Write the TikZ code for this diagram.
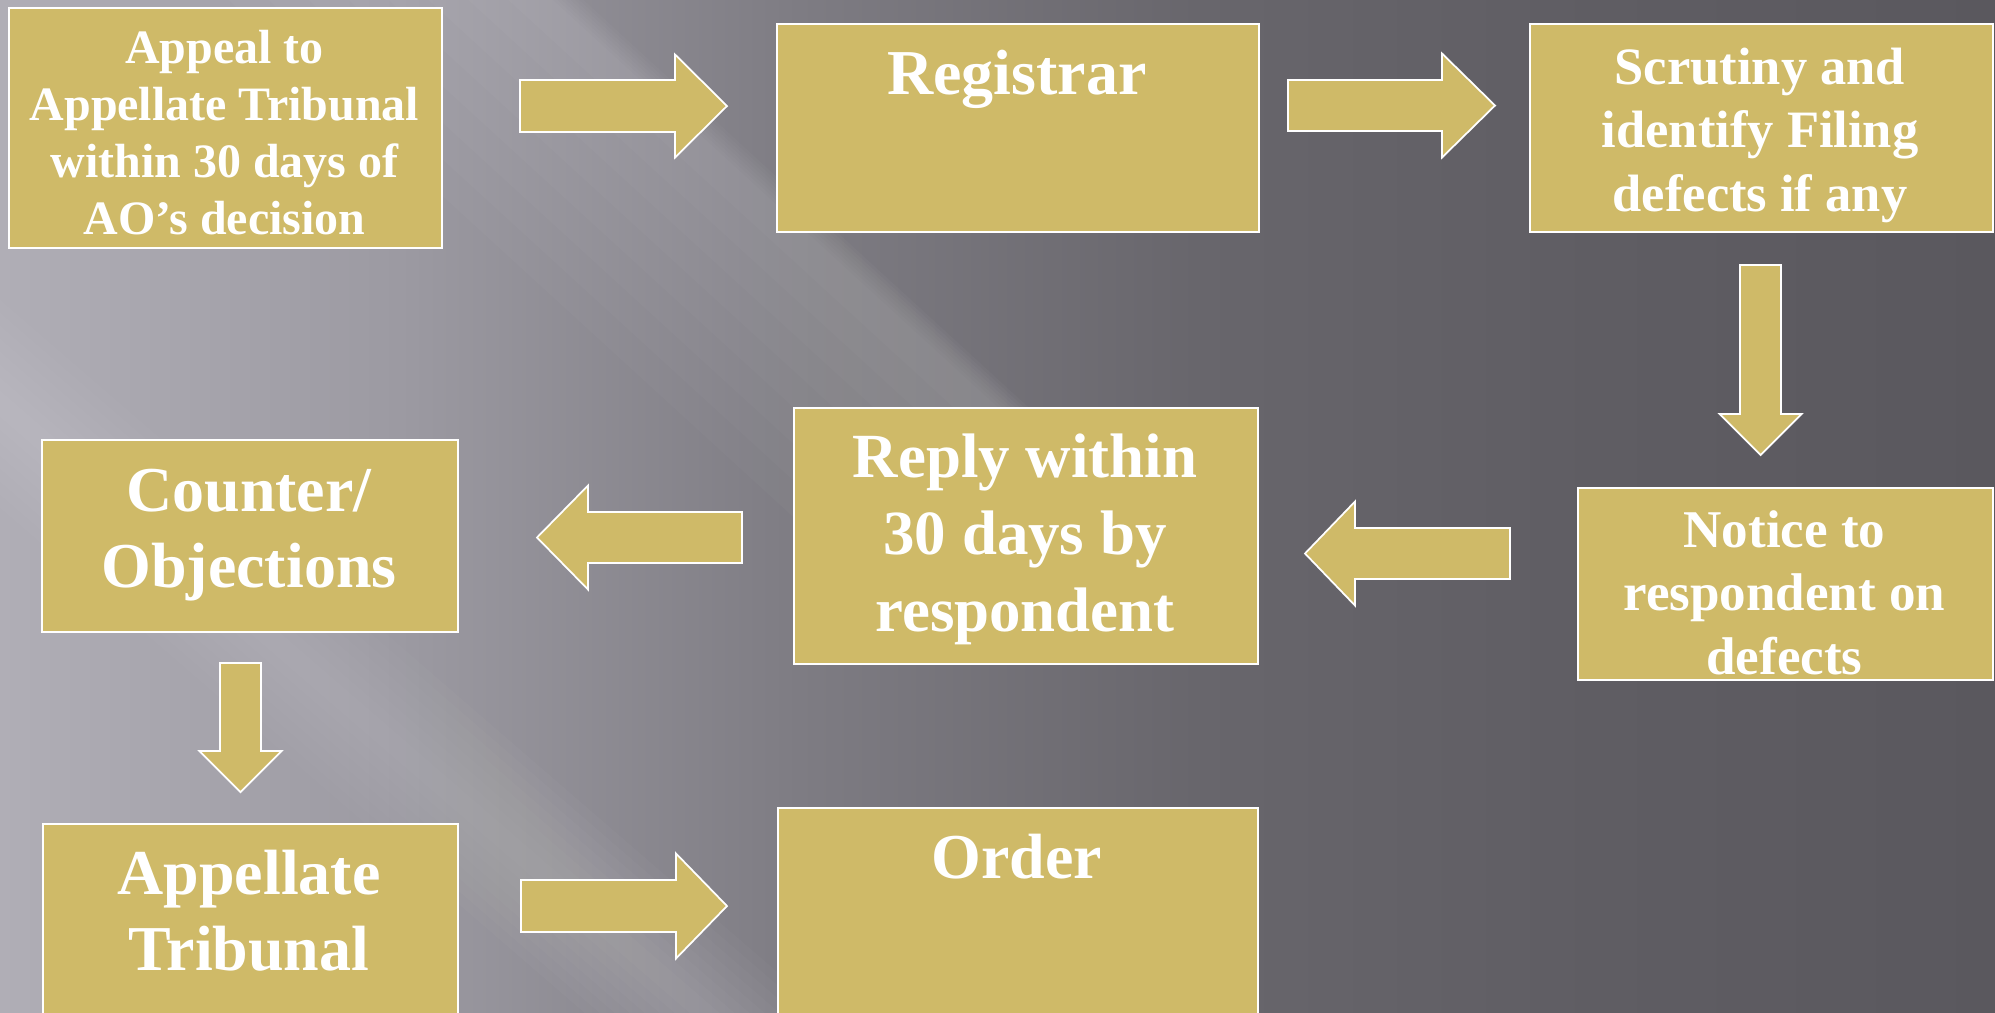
\documentclass[tikz,border=0pt]{standalone}
\usepackage{fontspec}
\setmainfont{Liberation Serif}
\usetikzlibrary{calc}

\definecolor{gold}{RGB}{207,186,104}
\definecolor{bg0}{RGB}{176,174,182}
\definecolor{bg1}{RGB}{156,154,162}
\definecolor{bg2}{RGB}{126,124,131}
\definecolor{bg3}{RGB}{104,102,108}
\definecolor{bg4}{RGB}{95,93,99}
\definecolor{bg5}{RGB}{90,88,94}

% slide background: light on the left, dark on the right
\pgfdeclarehorizontalshading{slidebg}{100bp}{color(0bp)=(bg0); color(25bp)=(bg0);
  color(35bp)=(bg1); color(45bp)=(bg2); color(55bp)=(bg3); color(65bp)=(bg4);
  color(75bp)=(bg5); color(100bp)=(bg5)}

\tikzset{
  box/.style={draw=white, line width=1.4pt, fill=gold, inner sep=0pt, rectangle, anchor=north west},
  boxtext/.style={text=white, inner sep=0pt, anchor=base, font=\bfseries},
  fatarrow/.style={fill=gold, draw=white, line width=1pt, line join=miter},
}

% stacked lines of a box, aligned on the baseline of the first line
\newcommand\flowtext[1]{\begin{tabular}[t]{@{}c@{}}#1\end{tabular}}

% block arrow: tail, tip, shaft half-width, head half-width, head length
\newcommand\blockarrow[5]{%
  \coordinate (neck) at ($(#2)!#5!(#1)$);
  \draw[fatarrow] ($(#1)!#3!90:(#2)$) -- ($(neck)!#3!90:(#2)$) -- ($(neck)!#4!90:(#2)$)
    -- (#2) -- ($(neck)!#4!-90:(#2)$) -- ($(neck)!#3!-90:(#2)$) -- ($(#1)!#3!-90:(#2)$) -- cycle;
}

% diagonal light streak: top x, top y, bottom x, bottom y,
% spread to the left, spread to the right, opacity of each layer
\newcommand\streak[7]{%
  \foreach \f in {0.125,0.25,0.375,0.5,0.625,0.75,0.875,1}{
    \fill[white, opacity=#7]
      ({#1-\f*#5},#2) -- ({#1+\f*#6},#2) -- ({#3+\f*#6},#4) -- ({#3-\f*#5},#4) -- cycle;
  }
}

\begin{document}
\begin{tikzpicture}[x=0.02cm, y=-0.02cm]
\useasboundingbox (0,0) rectangle (1995,1012);
\clip (0,0) rectangle (1995,1012);

% background
\shade[shading=slidebg] (0,0) rectangle (1995,1012);
\streak{543}{-5}{1204}{600}{320}{35}{0.022}
\streak{1204}{600}{1670}{1025}{260}{35}{0.003}
\streak{-120}{300}{840}{1130}{120}{120}{0.018}

% boxes
\node[box, minimum width=8.66cm, minimum height=4.8cm]  (appeal)   at (8,7)     {};
\node[box, minimum width=9.64cm, minimum height=4.16cm] (registrar) at (776,23)  {};
\node[box, minimum width=9.26cm, minimum height=4.16cm] (scrutiny) at (1529,23)  {};
\node[box, minimum width=8.32cm, minimum height=3.84cm] (counter)  at (41,439)   {};
\node[box, minimum width=9.28cm, minimum height=5.12cm] (reply)    at (793,407)  {};
\node[box, minimum width=8.30cm, minimum height=3.84cm] (notice)   at (1577,487) {};
\node[box, minimum width=8.31cm, minimum height=4.6cm]  (tribunal) at (41.5,823) {};
\node[box, minimum width=9.60cm, minimum height=4.9cm]  (order)    at (777,807)  {};

% box texts
\node[boxtext] (appeal-t) at (224.5,63) {\fontsize{27.3pt}{32.6pt}\selectfont
  \flowtext{Appeal to\\Appellate Tribunal\\within 30 days of\\AO’s decision}};
\node[boxtext] (registrar-t) at (1017,94) {\fontsize{36.4pt}{43.8pt}\selectfont Registrar};
\node[boxtext] (scrutiny-t) at (1760,84) {\fontsize{29.9pt}{36.4pt}\selectfont
  \flowtext{Scrutiny and\\identify Filing\\defects if any}};
\node[boxtext] (counter-t) at (249,511) {\fontsize{36.4pt}{43.5pt}\selectfont
  \flowtext{Counter/\\Objections}};
\node[boxtext] (reply-t) at (1025,477) {\fontsize{35.8pt}{44pt}\selectfont
  \flowtext{Reply within\\30 days by\\respondent}};
\node[boxtext] (notice-t) at (1784.5,547) {\fontsize{30.2pt}{36.4pt}\selectfont
  \flowtext{Notice to\\respondent on\\defects}};
\node[boxtext] (tribunal-t) at (249,894) {\fontsize{36.4pt}{43.8pt}\selectfont
  \flowtext{Appellate\\Tribunal}};
\node[boxtext] (order-t) at (1017,878) {\fontsize{36.4pt}{43.8pt}\selectfont Order};

% arrows
\coordinate (a1s) at (520,106);    \coordinate (a1e) at (727,106);
\coordinate (a2s) at (1288,105.5); \coordinate (a2e) at (1495,105.5);
\coordinate (a3s) at (1760.5,265); \coordinate (a3e) at (1760.5,455);
\coordinate (a4s) at (1510,553.5); \coordinate (a4e) at (1305,553.5);
\coordinate (a5s) at (742,537.5);  \coordinate (a5e) at (537,537.5);
\coordinate (a6s) at (240.5,663);  \coordinate (a6e) at (240.5,792);
\coordinate (a7s) at (521,906);    \coordinate (a7e) at (727,906);
\blockarrow{a1s}{a1e}{0.52cm}{1.03cm}{1.04cm}
\blockarrow{a2s}{a2e}{0.51cm}{1.04cm}{1.06cm}
\blockarrow{a3s}{a3e}{0.41cm}{0.82cm}{0.82cm}
\blockarrow{a4s}{a4e}{0.51cm}{1.04cm}{1.00cm}
\blockarrow{a5s}{a5e}{0.51cm}{1.04cm}{1.02cm}
\blockarrow{a6s}{a6e}{0.41cm}{0.82cm}{0.82cm}
\blockarrow{a7s}{a7e}{0.52cm}{1.05cm}{1.02cm}
\end{tikzpicture}
\end{document}
